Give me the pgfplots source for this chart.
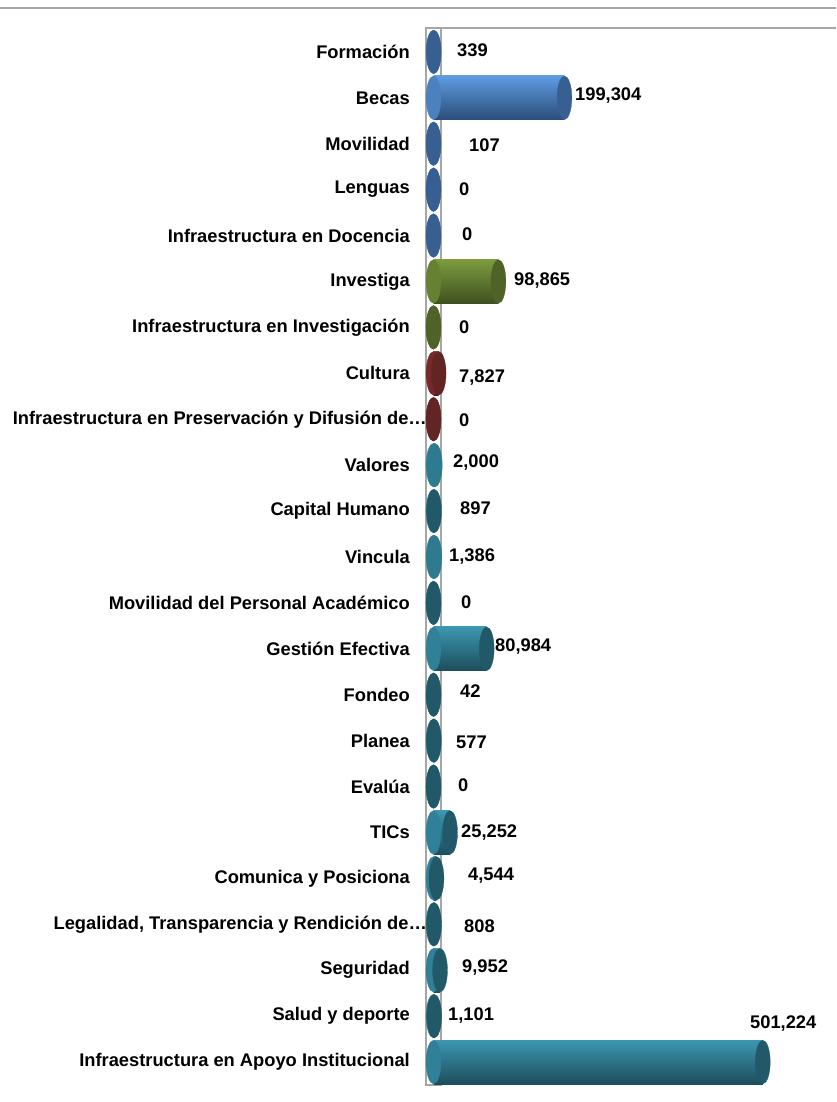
\documentclass[border=0pt]{standalone}
\usepackage{pgfplots}
\pgfplotsset{compat=1.18}
\usepackage{pgfplotstable}
\usepackage{fontspec}
\setmainfont{Liberation Sans}

\definecolor{bluecap}{HTML}{375F92}
\definecolor{bluetop}{HTML}{5E9CE2}
\definecolor{bluemid}{HTML}{5A98DE}
\definecolor{bluebot}{HTML}{2A4D78}
\definecolor{greencap}{HTML}{4F6228}
\definecolor{greentop}{HTML}{7C9C3E}
\definecolor{greenmid}{HTML}{77963A}
\definecolor{greenbot}{HTML}{3F5020}
\definecolor{redcap}{HTML}{632523}
\definecolor{redtop}{HTML}{9A3A38}
\definecolor{redmid}{HTML}{8B3030}
\definecolor{redbot}{HTML}{4A1A18}
\definecolor{tealcap}{HTML}{215968}
\definecolor{teallcap}{HTML}{2E7A8F}
\definecolor{tealtop}{HTML}{3C97B1}
\definecolor{tealmid}{HTML}{3896B1}
\definecolor{tealbot}{HTML}{1D4D5B}
\definecolor{framegray}{HTML}{A6A6A6}

% all series: y = category index, v = value
\pgfplotstableread{
y v z
0 339 0
1 199304 0
2 107 0
3 0 0
4 0 0
}\tblue
\pgfplotstableread{
y v z
5 98865 0
6 0 0
}\tgreen
\pgfplotstableread{
y v z
7 7827 0
8 0 0
}\tred
\pgfplotstableread{
y v z
10 897 0
12 0 0
13 80984 0
14 42 0
15 577 0
16 0 0
17 25252 0
18 4544 0
19 808 0
20 9952 0
21 1101 0
22 501224 0
}\tteal
\pgfplotstableread{
y v z
9 2000 0
11 1386 0
}\tteall
\pgfplotstableread{
lx ly lab
35769 -0.04 339
215373 0.94 199,304
54033 2.03 107
38813 2.98 0
43379 3.98 0
122527 4.99 98,865
38813 5.99 0
38813 7.10 7,827
38813 8.02 0
29680 8.95 2,000
40335 9.93 897
23592 11.0 1,386
41857 11.98 0
93607 12.96 80,984
40335 13.92 42
34247 15.03 577
37291 15.97 0
41857 17.01 25,252
52511 17.93 4,544
46423 19.04 808
43379 19.95 9,952
22070 20.98 1,101
481735 21.17 501,224
}\tlab

\tikzset{
  ell/.style={only marks, mark=*, color=#1, line width=0.3pt, mark size=21.8pt, mark options={xscale=0.34}},
  body/.style n args={3}{xbar, bar width=0.958, bar shift=0pt, draw=none, top color=#1, middle color=#2, bottom color=#3},
}

\begin{document}
\begin{tikzpicture}
\path[use as bounding box] (0,0) rectangle (836pt,-1102pt);
\draw[framegray, line width=1.2pt] (0,-8pt) -- (836pt,-8pt);
\begin{axis}[
  anchor=north west, at={(426pt,-28pt)},
  scale only axis, width=410pt, height=1057pt,
  xmin=-11416, xmax=612633,
  ymin=-0.52, ymax=22.5,
  y dir=reverse,
  clip=false,
  axis lines=left,
  axis line style={draw=none},
  xtick=\empty,
  ytick={0,...,22},
  yticklabels={Formación, Becas, Movilidad, Lenguas, Infraestructura en Docencia, Investiga, Infraestructura en Investigación, Cultura, {Infraestructura en Preservación y Difusión de…\kern-17pt}, Valores, Capital Humano, Vincula, Movilidad del Personal Académico, Gestión Efectiva, Fondeo, Planea, Evalúa, TICs, Comunica y Posiciona, {Legalidad, Transparencia y Rendición de…\kern-17pt}, Seguridad, Salud y deporte, Infraestructura en Apoyo Institucional},
  major tick length=0pt,
  yticklabel style={anchor=east, inner sep=0pt, xshift=-16pt, font=\bfseries\fontsize{18.3}{20}\selectfont},
]
\draw[framegray, line width=1.5pt, fill=white] (axis cs:-11416,-0.52) rectangle (axis cs:11415,22.5);
\draw[framegray, line width=1.8pt] (axis cs:11415,-0.52) -- (axis cs:612633,-0.52);

% left ends of the cylinders
\addplot[ell=bluemid!70!bluebot] table[x=z, y=y] {\tblue};
\addplot[ell=greenmid!70!greenbot] table[x=z, y=y] {\tgreen};
\addplot[ell=redmid!70!redbot] table[x=z, y=y] {\tred};
\addplot[ell=tealmid!70!tealbot] table[x=z, y=y] {\tteal};
\addplot[ell=tealmid!70!tealbot] table[x=z, y=y] {\tteall};

% cylinder bodies, one per bar so that each gets its own shading
\addplot[body={bluetop}{bluemid}{bluebot}] coordinates {(199304,1)};
\addplot[body={greentop}{greenmid}{greenbot}] coordinates {(98865,5)};
\addplot[body={redtop}{redmid}{redbot}] coordinates {(7827,7)};
\addplot[body={tealtop}{tealmid}{tealbot}] coordinates {(80984,13)};
\addplot[body={tealtop}{tealmid}{tealbot}] coordinates {(25252,17)};
\addplot[body={tealtop}{tealmid}{tealbot}] coordinates {(4544,18)};
\addplot[body={tealtop}{tealmid}{tealbot}] coordinates {(9952,20)};
\addplot[body={tealtop}{tealmid}{tealbot}] coordinates {(501224,22)};

% right-hand caps
\addplot[ell=bluecap] table[x=v, y=y] {\tblue};
\addplot[ell=greencap] table[x=v, y=y] {\tgreen};
\addplot[ell=redcap] table[x=v, y=y] {\tred};
\addplot[ell=tealcap] table[x=v, y=y] {\tteal};
\addplot[ell=teallcap] table[x=v, y=y] {\tteall};

% value labels
\addplot[draw=none, mark=none, nodes near coords, point meta=explicit symbolic,
  nodes near coords style={anchor=west, inner sep=0pt, color=black, font=\bfseries\fontsize{18.3}{20}\selectfont}]
  table[x=lx, y=ly, meta=lab] {\tlab};
\end{axis}
\end{tikzpicture}
\end{document}
